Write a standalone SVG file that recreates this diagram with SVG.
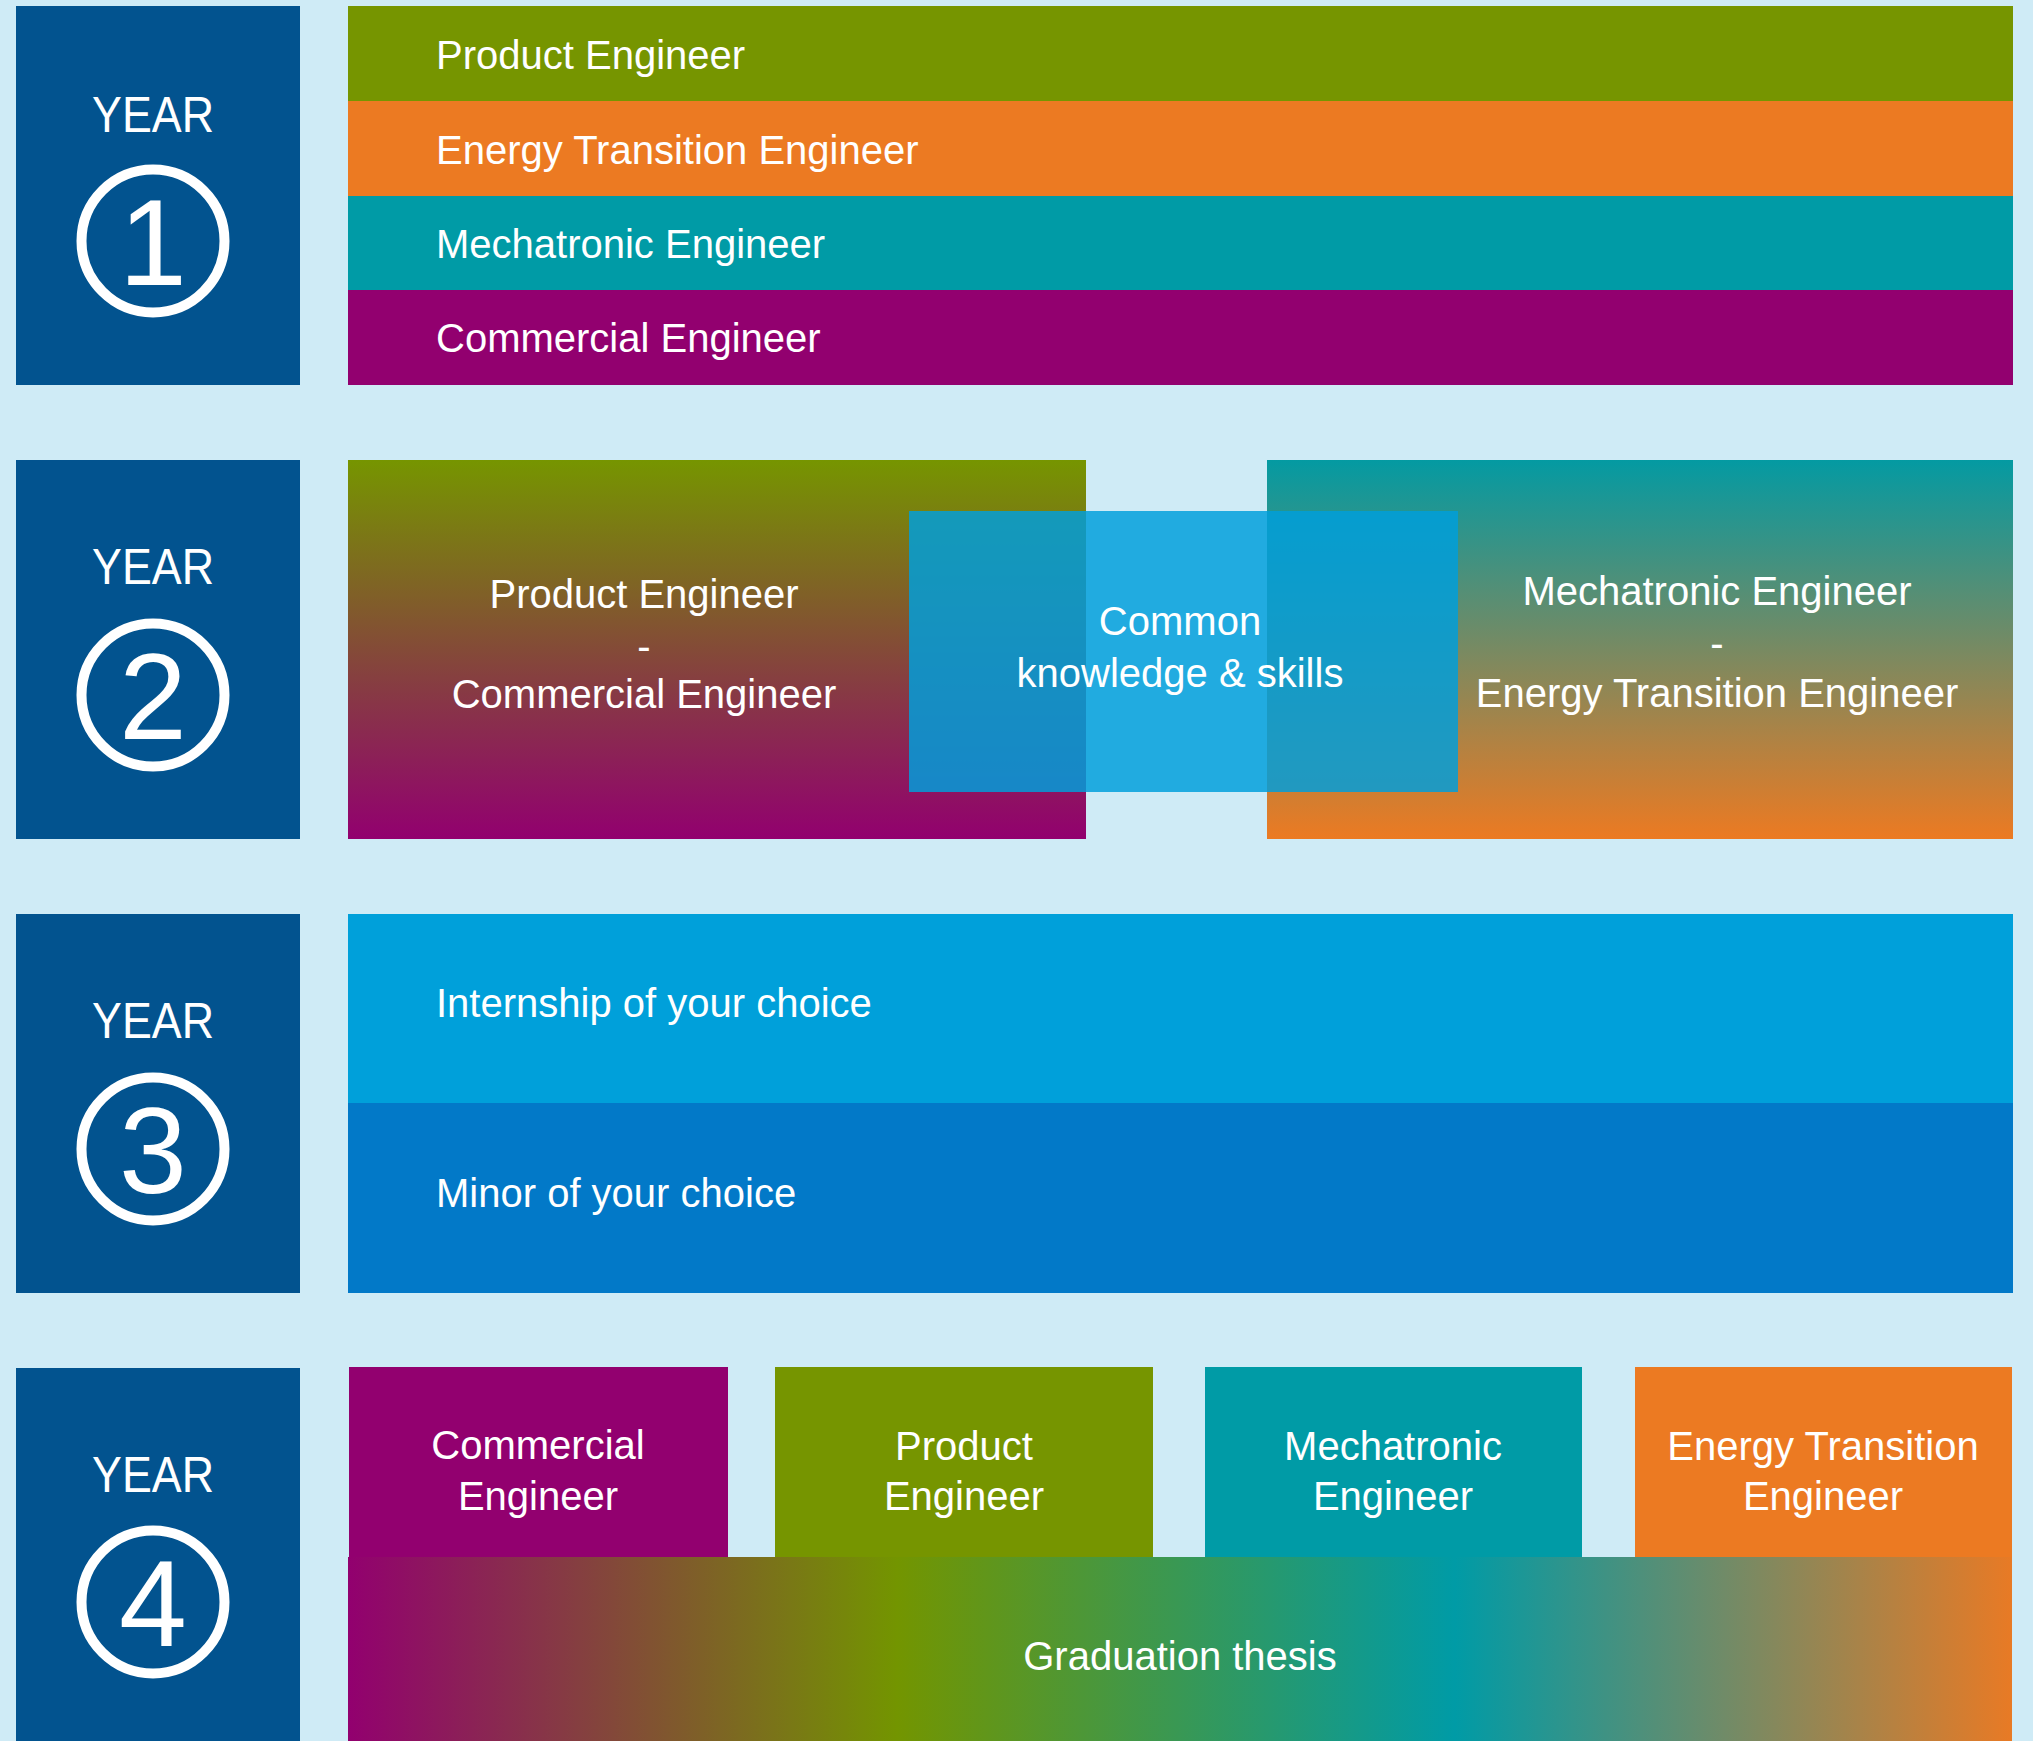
<svg xmlns="http://www.w3.org/2000/svg" width="2033" height="1741" viewBox="0 0 2033 1741">
<style>
.bg{fill:#cfebf6}
.yearbox{fill:#02538f}
.yt{fill:#fff;font-family:"Liberation Sans",Arial,sans-serif;font-size:50px;text-anchor:middle}
.num{fill:#fff;font-family:"Liberation Sans",Arial,sans-serif;font-size:122px;text-anchor:middle}
.ring{fill:none;stroke:#fff;stroke-width:10}
.lbl{fill:#fff;font-family:"Liberation Sans",Arial,sans-serif;font-size:40px}
.c{text-anchor:middle}
</style>
<defs>
<linearGradient id="gPC" x1="0" y1="0" x2="0" y2="1">
<stop offset="0" stop-color="#769500"/>
<stop offset="1" stop-color="#92006f"/>
</linearGradient>
<linearGradient id="gMO" x1="0" y1="0" x2="0" y2="1">
<stop offset="0" stop-color="#049aa2"/>
<stop offset="1" stop-color="#ec7a22"/>
</linearGradient>
<linearGradient id="gTh" x1="0" y1="0" x2="1" y2="0">
<stop offset="0" stop-color="#92006f"/>
<stop offset="0.33" stop-color="#739500"/>
<stop offset="0.665" stop-color="#009ba6"/>
<stop offset="1" stop-color="#e87a25"/>
</linearGradient>
</defs>
<rect class="bg" x="0" y="0" width="2033" height="1741"/>

<g id="year1">
<rect class="yearbox" x="16" y="6" width="284" height="379"/>
<text class="yt" x="153" y="132" textLength="122" lengthAdjust="spacingAndGlyphs">YEAR</text>
<circle class="ring" cx="153" cy="241" r="71.5"/>
<text class="num" x="153" y="285">1</text>
</g>
<g id="year1-product">
<rect x="348" y="6" width="1665" height="95" fill="#769500"/>
<text class="lbl" x="436" y="69">Product Engineer</text>
</g>
<g id="year1-energy">
<rect x="348" y="101" width="1665" height="95" fill="#ec7a22"/>
<text class="lbl" x="436" y="164">Energy Transition Engineer</text>
</g>
<g id="year1-mechatronic">
<rect x="348" y="196" width="1665" height="94" fill="#009ba6"/>
<text class="lbl" x="436" y="258">Mechatronic Engineer</text>
</g>
<g id="year1-commercial">
<rect x="348" y="290" width="1665" height="95" fill="#92006f"/>
<text class="lbl" x="436" y="352">Commercial Engineer</text>
</g>

<g id="year2">
<rect class="yearbox" x="16" y="460" width="284" height="379"/>
<text class="yt" x="153" y="584" textLength="122" lengthAdjust="spacingAndGlyphs">YEAR</text>
<circle class="ring" cx="153" cy="695" r="71.5"/>
<text class="num" x="153" y="739">2</text>
</g>
<g id="year2-product-commercial">
<rect x="348" y="460" width="738" height="379" fill="url(#gPC)"/>
</g>
<g id="year2-mechatronic-energy">
<rect x="1267" y="460" width="746" height="379" fill="url(#gMO)"/>
</g>
<g id="year2-common">
<rect x="909" y="511" width="549" height="281" fill="#009fdb" fill-opacity="0.84"/>
<text class="lbl c" x="1180" y="635">Common</text>
<text class="lbl c" x="1180" y="687">knowledge &amp; skills</text>
</g>
<g id="year2-labels">
<text class="lbl c" x="644" y="608">Product Engineer</text>
<text class="lbl c" x="644" y="660">-</text>
<text class="lbl c" x="644" y="708">Commercial Engineer</text>
<text class="lbl c" x="1717" y="605">Mechatronic Engineer</text>
<text class="lbl c" x="1717" y="657">-</text>
<text class="lbl c" x="1717" y="707">Energy Transition Engineer</text>
</g>

<g id="year3">
<rect class="yearbox" x="16" y="914" width="284" height="379"/>
<text class="yt" x="153" y="1038" textLength="122" lengthAdjust="spacingAndGlyphs">YEAR</text>
<circle class="ring" cx="153" cy="1149" r="71.5"/>
<text class="num" x="153" y="1193">3</text>
</g>
<g id="year3-internship">
<rect x="348" y="914" width="1665" height="189" fill="#00a0da"/>
<text class="lbl" x="436" y="1017">Internship of your choice</text>
</g>
<g id="year3-minor">
<rect x="348" y="1103" width="1665" height="190" fill="#0279c8"/>
<text class="lbl" x="436" y="1207">Minor of your choice</text>
</g>

<g id="year4">
<rect class="yearbox" x="16" y="1368" width="284" height="373"/>
<text class="yt" x="153" y="1492" textLength="122" lengthAdjust="spacingAndGlyphs">YEAR</text>
<circle class="ring" cx="153" cy="1602" r="71.5"/>
<text class="num" x="153" y="1646">4</text>
</g>
<g id="year4-commercial">
<rect x="349" y="1367" width="379" height="192" fill="#92006f"/>
<text class="lbl c" x="538" y="1459">Commercial</text>
<text class="lbl c" x="538" y="1510">Engineer</text>
</g>
<g id="year4-product">
<rect x="775" y="1367" width="378" height="192" fill="#769500"/>
<text class="lbl c" x="964" y="1460">Product</text>
<text class="lbl c" x="964" y="1510">Engineer</text>
</g>
<g id="year4-mechatronic">
<rect x="1205" y="1367" width="377" height="192" fill="#009ba6"/>
<text class="lbl c" x="1393" y="1460">Mechatronic</text>
<text class="lbl c" x="1393" y="1510">Engineer</text>
</g>
<g id="year4-energy">
<rect x="1635" y="1367" width="377" height="192" fill="#ec7a22"/>
<text class="lbl c" x="1823" y="1460">Energy Transition</text>
<text class="lbl c" x="1823" y="1510">Engineer</text>
</g>
<g id="year4-thesis">
<rect x="348" y="1557" width="1664" height="184" fill="url(#gTh)"/>
<text class="lbl c" x="1180" y="1670">Graduation thesis</text>
</g>
<g id="connectors"></g>
</svg>
